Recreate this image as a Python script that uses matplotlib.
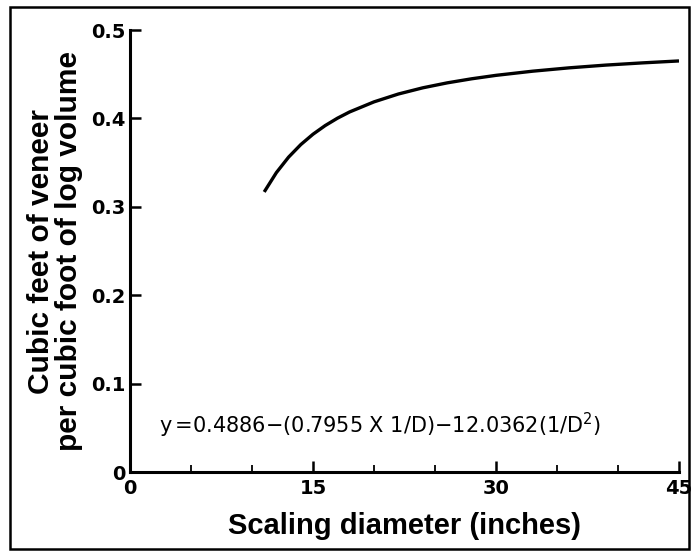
import matplotlib
matplotlib.use("Agg")
import matplotlib.pyplot as plt
from matplotlib.patches import Rectangle
from matplotlib.ticker import MultipleLocator

plt.rcParams['font.family'] = ['Liberation Sans', 'DejaVu Sans']

# scaling diameter (inches) and veneer recovery ratio
diameter = [11, 12, 13, 14, 15, 16, 17, 18, 20, 22, 24, 26, 28, 30, 33, 36, 39, 42, 45]
recovery = [0.3168, 0.3387, 0.3562, 0.3704, 0.3821, 0.3919, 0.4002, 0.4073, 0.4187,
            0.4276, 0.4346, 0.4402, 0.4448, 0.4487, 0.4534, 0.4572, 0.4603, 0.4628, 0.4650]

x_ticks = [0, 15, 30, 45]
x_ticklabels = ['0', '15', '30', '45']
y_ticks = [0, 0.1, 0.2, 0.3, 0.4, 0.5]
y_ticklabels = ['0', '0.1', '0.2', '0.3', '0.4', '0.5']
equation = r'y$\,$=0.4886$-$(0.7955 X 1/D)$-$12.0362(1/D$^2$)'

fig = plt.figure(figsize=(6.92, 5.51), dpi=100)
ax = fig.add_axes([130 / 692, 1 - 472 / 551, 549 / 692, 442 / 551])

ax.plot(diameter, recovery, color='black', lw=2.4, solid_capstyle='butt')

ax.set_xlim(0, 45)
ax.set_ylim(0, 0.5)
ax.set_xticks(x_ticks)
ax.set_xticklabels(x_ticklabels)
ax.set_yticks(y_ticks)
ax.set_yticklabels(y_ticklabels)
ax.xaxis.set_minor_locator(MultipleLocator(5))

for side in ['top', 'right']:
    ax.spines[side].set_visible(False)
for side in ['left', 'bottom']:
    ax.spines[side].set_linewidth(2.2)

ax.tick_params(axis='both', which='major', direction='in', length=8, width=1.8, pad=3)
ax.tick_params(axis='x', which='minor', direction='in', length=5, width=1.3)
ax.tick_params(axis='x', which='major', pad=5)
for lab in ax.get_xticklabels() + ax.get_yticklabels():
    lab.set_fontfamily('DejaVu Sans')
    lab.set_fontweight('bold')
    lab.set_fontsize(14)

ax.set_xlabel('Scaling diameter (inches)', fontsize=21, fontweight='bold', labelpad=10)
ax.set_ylabel('Cubic feet of veneer\nper cubic foot of log volume', fontsize=21.5,
              fontweight='bold', labelpad=6, linespacing=1.0)

ax.text(2.4, 0.053, equation, fontsize=15, va='center', ha='left', family='DejaVu Sans')

# frame around the whole figure
fig.add_artist(Rectangle((10 / 692, 2 / 551), 679 / 692, 542 / 551,
                         transform=fig.transFigure, fill=False, lw=1.8, ec='black'))

fig.savefig('out.png', dpi=100)
